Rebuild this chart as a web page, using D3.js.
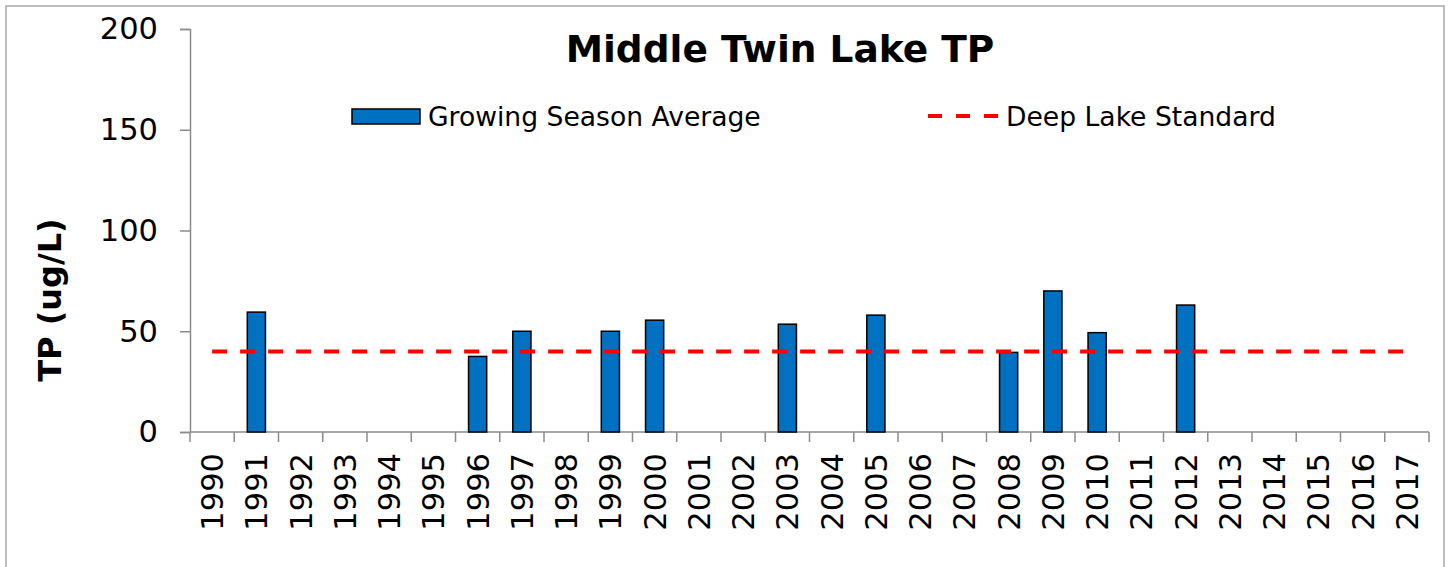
<!DOCTYPE html>
<html>
<head>
<meta charset="utf-8">
<script src="https://cdn.jsdelivr.net/npm/d3@7"></script>
<style>
  html, body { margin: 0; padding: 0; background: #fff; overflow: hidden; }
  svg { display: block; }
  text { font-family: "DejaVu Sans", Verdana, sans-serif; fill: #000; }
</style>
</head>
<body>
<svg width="1454" height="567"></svg>
<script>
const years = d3.range(1990, 2018).map(String);
const tpValues = [null, 59.5, null, null, null, null, 37.5, 50, null, 50, 55.5, null, null, 53.5,
  null, 58, null, null, 39.5, 70, 49.3, null, 63, null, null, null, null, null];
const standard = 40;
const yTicks = [0, 50, 100, 150, 200];

const svg = d3.select('svg');
const width = +svg.attr('width');
const height = +svg.attr('height');

const margin = { top: 29, right: 25, bottom: 135, left: 190 };
const innerWidth = 1429 - margin.left;
const innerHeight = 432 - margin.top;

// outer chart border (bottom edge runs past the picture)
svg.append('path')
  .attr('d', `M6,${height} V6 H1444 V${height}`)
  .attr('fill', 'none')
  .attr('stroke', '#a6a6a6')
  .attr('stroke-width', 1.5);

const g = svg.append('g')
  .attr('transform', `translate(${margin.left},${margin.top})`);

const xScale = d3.scaleBand().domain(years).range([0, innerWidth]);
const yScale = d3.scaleLinear().domain([0, 200]).range([innerHeight, 0]);

// y axis
const yAxisG = g.append('g')
  .call(d3.axisLeft(yScale).tickValues(yTicks).tickSize(10).tickPadding(22));
yAxisG.selectAll('.domain, line').attr('stroke', '#8c8c8c').attr('stroke-width', 1.5);
yAxisG.selectAll('text')
  .style('font-size', '30.5px')
  .style('font-family', '"DejaVu Sans", Verdana, sans-serif');

// x axis: line plus ticks at category boundaries
const xAxisG = g.append('g').attr('transform', `translate(0,${innerHeight})`);
xAxisG.append('line')
  .attr('x1', 0).attr('x2', innerWidth)
  .attr('stroke', '#8c8c8c').attr('stroke-width', 1.5);
xAxisG.selectAll('.bound').data(years.concat(['end']))
  .enter().append('line')
  .attr('class', 'bound')
  .attr('x1', (d, i) => i < years.length ? xScale(d) : innerWidth)
  .attr('x2', (d, i) => i < years.length ? xScale(d) : innerWidth)
  .attr('y1', 0).attr('y2', 10)
  .attr('stroke', '#8c8c8c').attr('stroke-width', 1.5);
xAxisG.selectAll('.xlabel').data(years)
  .enter().append('text')
  .attr('class', 'xlabel')
  .attr('transform', d => `translate(${xScale(d) + xScale.bandwidth() / 2},21) rotate(-90)`)
  .attr('text-anchor', 'end')
  .attr('dy', '0.36em')
  .style('font-size', '30.5px')
  .text(d => d);

// bars
const barW = xScale.bandwidth() * 0.41;
g.selectAll('.bar').data(years.map((y, i) => ({ year: y, value: tpValues[i] })).filter(d => d.value != null))
  .enter().append('rect')
  .attr('class', 'bar')
  .attr('x', d => xScale(d.year) + (xScale.bandwidth() - barW) / 2)
  .attr('y', d => yScale(d.value))
  .attr('width', barW)
  .attr('height', d => innerHeight - yScale(d.value))
  .attr('fill', '#0070c0')
  .attr('stroke', '#000')
  .attr('stroke-width', 1.5);

// deep lake standard
const lineGenerator = d3.line()
  .x(d => xScale(d) + xScale.bandwidth() / 2)
  .y(() => yScale(standard));
g.append('path')
  .attr('d', lineGenerator(years))
  .attr('fill', 'none')
  .attr('stroke', '#ff0000')
  .attr('stroke-width', 4)
  .attr('stroke-dasharray', '15,13');

// title
svg.append('text')
  .attr('x', 780).attr('y', 62)
  .attr('text-anchor', 'middle')
  .style('font-size', '37.5px')
  .style('font-weight', 'bold')
  .text('Middle Twin Lake TP');

// y axis label
svg.append('text')
  .attr('transform', 'translate(61,300) rotate(-90)')
  .attr('text-anchor', 'middle')
  .style('font-size', '32px')
  .style('font-weight', 'bold')
  .text('TP (ug/L)');

// legend
const legend = svg.append('g');
legend.append('rect')
  .attr('x', 352).attr('y', 109)
  .attr('width', 68).attr('height', 15)
  .attr('fill', '#0070c0').attr('stroke', '#000').attr('stroke-width', 1.5);
legend.append('text')
  .attr('x', 428).attr('y', 126)
  .style('font-size', '26.6px')
  .text('Growing Season Average');
legend.append('line')
  .attr('x1', 928).attr('x2', 998)
  .attr('y1', 116).attr('y2', 116)
  .attr('stroke', '#ff0000').attr('stroke-width', 4)
  .attr('stroke-dasharray', '14,14');
legend.append('text')
  .attr('x', 1006).attr('y', 126)
  .style('font-size', '26.6px')
  .text('Deep Lake Standard');
</script>
</body>
</html>
